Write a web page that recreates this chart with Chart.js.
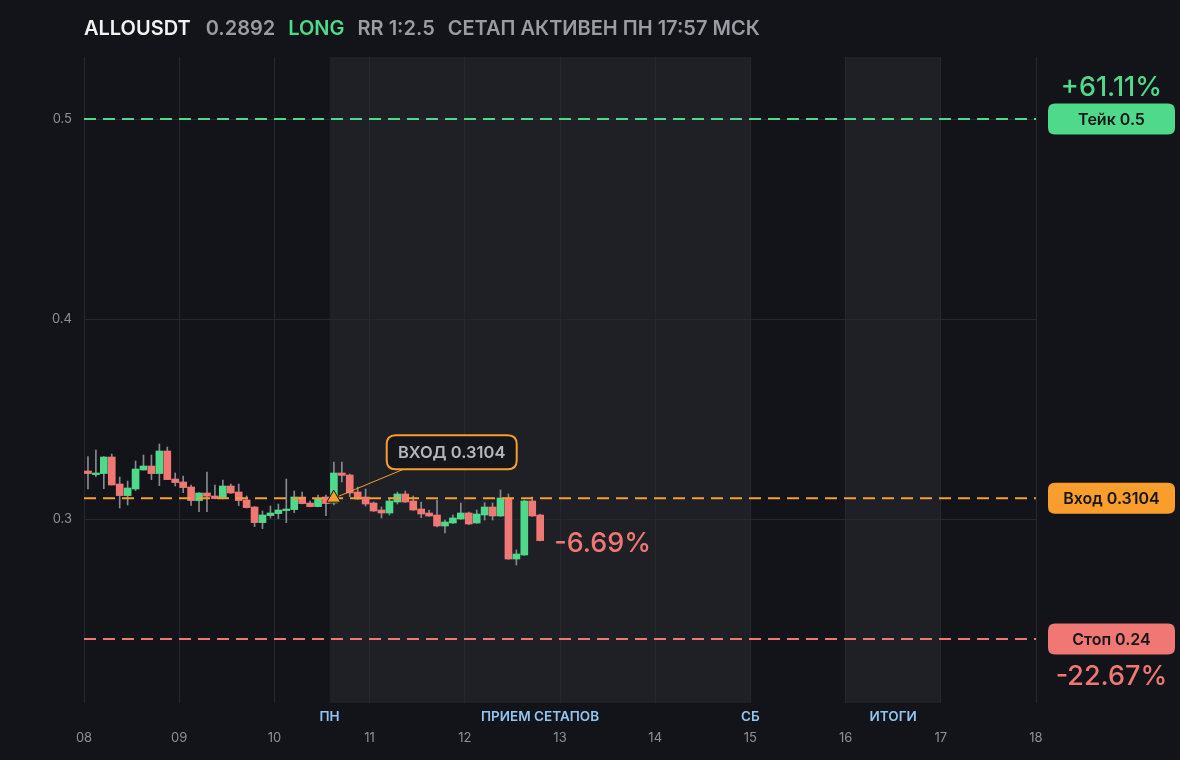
<!DOCTYPE html>
<html>
<head>
<meta charset="utf-8">
<script src="https://cdn.jsdelivr.net/npm/chart.js@4.4.1/dist/chart.umd.min.js"></script>
<style>
  html, body { margin: 0; background: #131419; }
  #wrap { position: relative; width: 1180px; height: 760px; }
  #chart { position: absolute; left: 0; top: 0; }
  #head { position: absolute; left: 84px; top: 16px; font: 600 20px Inter, sans-serif; color: #9a9ca3; white-space: nowrap; }
  #head span { margin-right: 13px; }
  #head .sym { color: #f2f2f2; margin-right: 15px; }
  #head .side { color: #4fd98a; }
</style>
</head>
<body>
<div id="wrap">
  <canvas id="chart" width="1180" height="760"></canvas>
  <div id="head"><span class="sym">ALLOUSDT</span><span>0.2892</span><span class="side">LONG</span><span>RR 1:2.5</span><span>СЕТАП АКТИВЕН ПН 17:57 МСК</span></div>
</div>
<script>
// 2h candles starting 08 00:00
const startDay = 8;
const candleDays = 2 / 24;

const opens  = [0.3240, 0.3222, 0.3227, 0.3310, 0.3175, 0.3117, 0.3150, 0.3245, 0.3265, 0.3227,
                0.3340, 0.3200, 0.3185, 0.3160, 0.3092, 0.3130, 0.3115, 0.3105, 0.3165, 0.3135,
                0.3095, 0.3060, 0.2982, 0.3017, 0.3027, 0.3042, 0.3047, 0.3110, 0.3080, 0.3062,
                0.3110, 0.3080, 0.3230, 0.3220, 0.3135, 0.3110, 0.3080, 0.3045, 0.3030, 0.3085,
                0.3125, 0.3090, 0.3050, 0.3030, 0.3020, 0.2965, 0.2980, 0.3000, 0.3030, 0.2980,
                0.3020, 0.3060, 0.3015, 0.3105, 0.2800, 0.2820, 0.3090, 0.3020];
const highs  = [0.3312, 0.3345, 0.3312, 0.3325, 0.3210, 0.3190, 0.3290, 0.3320, 0.3320, 0.3375,
                0.3360, 0.3230, 0.3215, 0.3170, 0.3132, 0.3235, 0.3170, 0.3195, 0.3175, 0.3175,
                0.3115, 0.3062, 0.3040, 0.3065, 0.3075, 0.3200, 0.3140, 0.3135, 0.3090, 0.3120,
                0.3120, 0.3285, 0.3285, 0.3225, 0.3160, 0.3150, 0.3085, 0.3060, 0.3100, 0.3135,
                0.3140, 0.3115, 0.3085, 0.3045, 0.3095, 0.2995, 0.3020, 0.3080, 0.3035, 0.3045,
                0.3082, 0.3080, 0.3145, 0.3125, 0.2845, 0.3095, 0.3110, 0.3025];
const lows   = [0.3150, 0.3212, 0.3152, 0.3170, 0.3055, 0.3070, 0.3142, 0.3245, 0.3197, 0.3167,
                0.3197, 0.3165, 0.3132, 0.3068, 0.3037, 0.3037, 0.3100, 0.3100, 0.3128, 0.3067,
                0.3055, 0.2962, 0.2952, 0.3005, 0.3002, 0.2982, 0.3032, 0.3075, 0.3060, 0.3060,
                0.3017, 0.3070, 0.3185, 0.3112, 0.3098, 0.3065, 0.3038, 0.3005, 0.3020, 0.3075,
                0.3083, 0.3043, 0.3007, 0.3013, 0.2960, 0.2930, 0.2978, 0.2998, 0.2972, 0.2978,
                0.2995, 0.2995, 0.3013, 0.2798, 0.2770, 0.2818, 0.3013, 0.2890];
const closes = [0.3227, 0.3230, 0.3310, 0.3170, 0.3117, 0.3155, 0.3250, 0.3265, 0.3227, 0.3340,
                0.3197, 0.3182, 0.3157, 0.3092, 0.3130, 0.3114, 0.3102, 0.3165, 0.3130, 0.3092,
                0.3057, 0.2982, 0.3020, 0.3030, 0.3045, 0.3050, 0.3110, 0.3077, 0.3062, 0.3100,
                0.3077, 0.3230, 0.3218, 0.3130, 0.3100, 0.3075, 0.3040, 0.3030, 0.3090, 0.3125,
                0.3085, 0.3045, 0.3025, 0.3015, 0.2965, 0.2985, 0.3005, 0.3030, 0.2975, 0.3025,
                0.3060, 0.3015, 0.3105, 0.2800, 0.2825, 0.3090, 0.3015, 0.2892];

const xTickLabels = ['08', '09', '10', '11', '12', '13', '14', '15', '16', '17', '18'];
const yTickValues = [0.3, 0.4, 0.5];

const takeLevel = 0.5;
const entryLevel = 0.3104;
const stopLevel = 0.24;
const entryTime = 10.623;

const takeText = 'Тейк 0.5';
const entryText = 'Вход 0.3104';
const stopText = 'Стоп 0.24';
const takePct = '+61.11%';
const stopPct = '-22.67%';
const nowPct = '-6.69%';
const entryNote = 'ВХОД 0.3104';

const bandStarts = [10.58, 16];
const bandEnds = [15.0, 17];
const zoneLabels = ['ПН', 'ПРИЕМ СЕТАПОВ', 'СБ', 'ИТОГИ'];
const zoneLabelX = [10.58, 12.79, 15.0, 16.5];

const GREEN = '#4fd98a';
const RED = '#f07774';
const ORANGE = '#f99d2c';
const FONT = 'Inter, sans-serif';

const times = opens.map((o, i) => startDay + (i + 0.5) * candleDays);
const candleColors = opens.map((o, i) => closes[i] >= o ? GREEN : RED);

function roundRect(ctx, x, y, w, h, r) {
  ctx.beginPath();
  ctx.moveTo(x + r, y);
  ctx.lineTo(x + w - r, y);
  ctx.quadraticCurveTo(x + w, y, x + w, y + r);
  ctx.lineTo(x + w, y + h - r);
  ctx.quadraticCurveTo(x + w, y + h, x + w - r, y + h);
  ctx.lineTo(x + r, y + h);
  ctx.quadraticCurveTo(x, y + h, x, y + h - r);
  ctx.lineTo(x, y + r);
  ctx.quadraticCurveTo(x, y, x + r, y);
  ctx.closePath();
}

const bandsPlugin = {
  id: 'bands',
  beforeDraw(chart) {
    const { ctx, chartArea, scales } = chart;
    ctx.save();
    ctx.fillStyle = '#1f2025';
    bandStarts.forEach((s, i) => {
      const x1 = scales.x.getPixelForValue(s);
      const x2 = scales.x.getPixelForValue(bandEnds[i]);
      ctx.fillRect(x1, chartArea.top, x2 - x1, chartArea.bottom - chartArea.top);
    });
    ctx.restore();
  }
};

const labelsPlugin = {
  id: 'labels',
  afterDraw(chart) {
    const { ctx, chartArea, scales } = chart;
    const x = scales.x, y = scales.y;
    ctx.save();

    // right side pills
    const pillX = chartArea.right + 12, pillW = 127, pillH = 31;
    const pills = [[takeLevel, takeText, GREEN], [entryLevel, entryText, ORANGE], [stopLevel, stopText, RED]];
    pills.forEach(p => {
      const py = y.getPixelForValue(p[0]);
      ctx.fillStyle = p[2];
      roundRect(ctx, pillX, py - pillH / 2, pillW, pillH, 7);
      ctx.fill();
      ctx.fillStyle = '#15161a';
      ctx.font = '600 16px ' + FONT;
      ctx.textAlign = 'center';
      ctx.textBaseline = 'middle';
      ctx.fillText(p[1], pillX + pillW / 2, py + 1);
    });

    ctx.font = '500 27px ' + FONT;
    ctx.textAlign = 'center';
    ctx.fillStyle = GREEN;
    ctx.fillText(takePct, pillX + pillW / 2, y.getPixelForValue(takeLevel) - 31);
    ctx.fillStyle = RED;
    ctx.fillText(stopPct, pillX + pillW / 2, y.getPixelForValue(stopLevel) + 38);

    // current change next to last candle
    const last = closes.length - 1;
    ctx.textAlign = 'left';
    ctx.fillText(nowPct, x.getPixelForValue(times[last]) + 14, y.getPixelForValue(closes[last]) + 3);

    // entry note box
    const ex = x.getPixelForValue(entryTime), ey = y.getPixelForValue(entryLevel);
    ctx.strokeStyle = ORANGE;
    ctx.lineWidth = 1;
    ctx.beginPath();
    ctx.moveTo(ex + 5, ey - 2);
    ctx.lineTo(ex + 70, ey - 29);
    ctx.stroke();
    ctx.fillStyle = '#15161b';
    ctx.lineWidth = 2;
    roundRect(ctx, ex + 53, ey - 63, 130, 34, 9);
    ctx.fill();
    ctx.stroke();
    ctx.fillStyle = '#b4b7be';
    ctx.font = '600 16.5px ' + FONT;
    ctx.textAlign = 'center';
    ctx.fillText(entryNote, ex + 118, ey - 45);

    // zone labels under the plot
    ctx.fillStyle = '#93c5f3';
    ctx.font = '600 13.5px ' + FONT;
    zoneLabels.forEach((t, i) => {
      ctx.fillText(t, x.getPixelForValue(zoneLabelX[i]), chartArea.bottom + 14);
    });
    ctx.restore();
  }
};

function levelLine(level, color) {
  return {
    type: 'line',
    data: [{ x: startDay, y: level }, { x: startDay + xTickLabels.length - 1, y: level }],
    borderColor: color,
    borderWidth: 2,
    borderDash: [12, 7],
    pointRadius: 0,
    order: 0
  };
}

new Chart(document.getElementById('chart'), {
  type: 'bar',
  data: {
    datasets: [
      {
        label: 'wicks',
        data: times.map((t, i) => ({ x: t, y: [lows[i], highs[i]] })),
        backgroundColor: '#868991',
        barThickness: 1,
        grouped: false,
        order: 3
      },
      {
        label: 'bodies',
        data: times.map((t, i) => ({ x: t, y: [opens[i], closes[i]] })),
        backgroundColor: candleColors,
        barThickness: 7,
        minBarLength: 1,
        grouped: false,
        order: 2
      },
      levelLine(takeLevel, GREEN),
      levelLine(entryLevel, ORANGE),
      levelLine(stopLevel, RED),
      {
        type: 'line',
        data: [{ x: entryTime, y: entryLevel }],
        showLine: false,
        pointStyle: 'triangle',
        pointRadius: 8,
        backgroundColor: ORANGE,
        borderColor: '#101114',
        borderWidth: 1,
        order: -1
      }
    ]
  },
  options: {
    responsive: false,
    animation: false,
    layout: { padding: { top: 57, right: 144, left: 0, bottom: 0 } },
    plugins: { legend: { display: false }, tooltip: { enabled: false } },
    scales: {
      x: {
        type: 'linear',
        min: startDay,
        max: startDay + xTickLabels.length - 1,
        offset: false,
        grid: { offset: false, color: '#27282d', drawTicks: false },
        border: { display: false },
        afterBuildTicks: s => { s.ticks = xTickLabels.map((t, i) => ({ value: startDay + i })); },
        afterFit: s => { s.height = 57; },
        ticks: {
          callback: (v, i) => xTickLabels[i],
          color: '#8e9097',
          font: { family: FONT, size: 13 },
          padding: 27,
          maxRotation: 0
        }
      },
      y: {
        min: 0.208,
        max: 0.531,
        grid: { color: '#27282d', drawTicks: false },
        border: { display: false },
        afterBuildTicks: s => { s.ticks = yTickValues.map(v => ({ value: v })); },
        afterFit: s => { s.width = 84; },
        ticks: {
          callback: v => v.toFixed(1),
          color: '#8e9097',
          font: { family: FONT, size: 13 },
          padding: 12
        }
      }
    }
  },
  plugins: [bandsPlugin, labelsPlugin]
});
</script>
</body>
</html>
